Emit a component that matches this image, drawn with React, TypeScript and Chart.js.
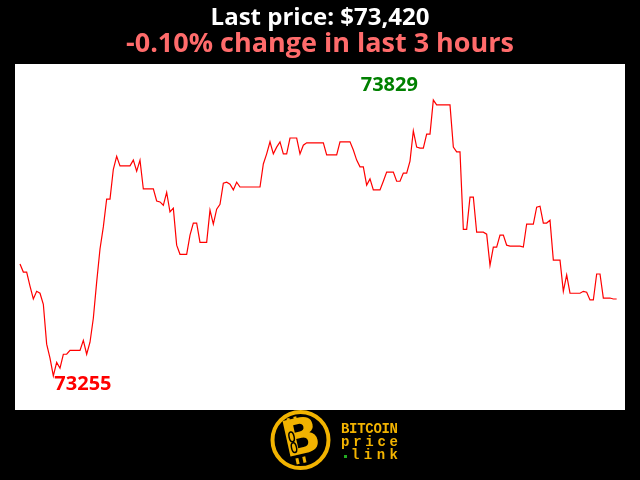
import React, { useEffect, useRef } from "react";
import { Chart, registerables } from "chart.js";

Chart.register(...registerables);

const TITLE = "Last price: $73,420";
const SUBTITLE = "-0.10% change in last 3 hours";
const LOGO_LINES = ["BITCOIN", "price", "link"];

// BTC price, one point per minute over the last 3 hours
const prices: number[] = [
  73488, 73471, 73471, 73442, 73415, 73431, 73427, 73404, 73321, 73292,
  73255, 73283, 73271, 73300, 73300, 73308, 73308, 73308, 73308, 73329,
  73300, 73325, 73375, 73450, 73519, 73565, 73623, 73623, 73685, 73712,
  73692, 73692, 73692, 73692, 73704, 73681, 73704, 73644, 73644, 73644,
  73644, 73619, 73617, 73610, 73637, 73596, 73604, 73527, 73508, 73508,
  73508, 73548, 73573, 73573, 73533, 73533, 73533, 73600, 73571, 73602,
  73612, 73656, 73658, 73654, 73642, 73658, 73648, 73648, 73648, 73648,
  73648, 73648, 73648, 73696, 73717, 73742, 73717, 73731, 73742, 73717,
  73717, 73750, 73750, 73750, 73717, 73735, 73740, 73740, 73740, 73740,
  73740, 73740, 73715, 73715, 73715, 73715, 73742, 73742, 73742, 73742,
  73725, 73704, 73690, 73690, 73652, 73665, 73642, 73642, 73642, 73660,
  73679, 73679, 73679, 73660, 73660, 73677, 73677, 73702, 73765, 73731,
  73729, 73729, 73758, 73758, 73829, 73819, 73819, 73819, 73819, 73819,
  73731, 73721, 73721, 73560, 73560, 73627, 73627, 73554, 73554, 73554,
  73550, 73485, 73523, 73523, 73548, 73548, 73527, 73525, 73525, 73525,
  73525, 73523, 73571, 73571, 73571, 73606, 73608, 73573, 73573, 73579,
  73496, 73496, 73496, 73431, 73465, 73427, 73427, 73427, 73427, 73431,
  73429, 73413, 73413, 73467, 73467, 73417, 73417, 73417, 73415, 73415,
];

const minuteIndex: number[] = prices.map((_, i) => i);

const Y_MIN = 73184;
const Y_MAX = 73904;

function drawJustified(ctx: CanvasRenderingContext2D, text: string, left: number, right: number, y: number) {
  const chars = text.split("");
  const widths = chars.map((c) => ctx.measureText(c).width);
  const total = widths.reduce((a, b) => a + b, 0);
  const gap = chars.length > 1 ? (right - left - total) / (chars.length - 1) : 0;
  let x = left;
  ctx.textAlign = "left";
  chars.forEach((c, i) => {
    ctx.fillText(c, x, y);
    x += widths[i] + gap;
  });
}

const decorPlugin = {
  id: "decor",
  beforeDraw(chart: any) {
    const { ctx, chartArea: a } = chart;
    ctx.save();
    ctx.fillStyle = "#000000";
    ctx.fillRect(0, 0, chart.width, chart.height);
    ctx.fillStyle = "#ffffff";
    ctx.fillRect(a.left, a.top, a.right - a.left, a.bottom - a.top);
    ctx.restore();
  },
  afterDraw(chart: any) {
    const { ctx } = chart;
    const xs = chart.scales.x;
    const ys = chart.scales.y;
    ctx.save();

    // header
    ctx.textAlign = "center";
    ctx.textBaseline = "alphabetic";
    ctx.fillStyle = "#ffffff";
    ctx.font = 'bold 24px "Open Sans"';
    ctx.fillText(TITLE, 320, 25);
    ctx.fillStyle = "#ff6b6b";
    ctx.font = 'bold 27px "Open Sans"';
    ctx.fillText(SUBTITLE, 320, 52);

    // max / min labels
    let maxI = 0;
    let minI = 0;
    prices.forEach((p, i) => {
      if (p > prices[maxI]) maxI = i;
      if (p < prices[minI]) minI = i;
    });
    const maxX = xs.getPixelForValue(minuteIndex[maxI]);
    const maxY = ys.getPixelForValue(prices[maxI]);
    const minX = xs.getPixelForValue(minuteIndex[minI]);
    const minY = ys.getPixelForValue(prices[minI]);
    ctx.font = 'bold 20px "Open Sans"';
    ctx.fillStyle = "#008000";
    ctx.textAlign = "center";
    ctx.fillText(String(prices[maxI]), maxX - 44, maxY - 9);
    ctx.fillStyle = "#ff0000";
    ctx.textAlign = "left";
    ctx.fillText(String(prices[minI]), minX + 1, minY + 14);

    // logo
    const gold = "#f2b300";
    const cx = 300.5;
    const cy = 440;
    ctx.beginPath();
    ctx.arc(cx, cy, 28, 0, Math.PI * 2);
    ctx.fillStyle = "#000000";
    ctx.fill();
    ctx.lineWidth = 4;
    ctx.strokeStyle = gold;
    ctx.stroke();

    ctx.save();
    ctx.translate(cx, cy);
    ctx.rotate(-0.22);
    ctx.fillStyle = gold;
    ctx.fillRect(-9, -24, 3, 6);
    ctx.fillRect(-2, -24, 3, 6);
    ctx.fillRect(-9, 17, 3, 6);
    ctx.fillRect(-2, 17, 3, 6);
    ctx.font = 'bold 50px "DejaVu Sans"';
    ctx.textAlign = "center";
    ctx.textBaseline = "middle";
    ctx.fillText("B", 1, 1);
    ctx.strokeStyle = "#000000";
    ctx.lineWidth = 1.5;
    ctx.beginPath();
    ctx.ellipse(-8, -5, 2.5, 5, 0, 0, Math.PI * 2);
    ctx.stroke();
    ctx.beginPath();
    ctx.ellipse(-8, 6, 2.5, 5, 0, 0, Math.PI * 2);
    ctx.stroke();
    ctx.restore();

    ctx.fillStyle = gold;
    ctx.font = 'bold 14px "Liberation Mono"';
    ctx.textBaseline = "alphabetic";
    drawJustified(ctx, LOGO_LINES[0], 341, 398, 433);
    drawJustified(ctx, LOGO_LINES[1], 341, 398, 446);
    drawJustified(ctx, LOGO_LINES[2], 351, 398, 459);
    ctx.fillStyle = "#22aa22";
    ctx.fillRect(344, 455, 3, 3);

    ctx.restore();
  },
};

export default function App() {
  const ref = useRef<HTMLCanvasElement | null>(null);

  useEffect(() => {
    document.body.style.margin = "0";
    document.body.style.background = "#000";
    if (!ref.current) return;
    const chart = new Chart(ref.current, {
      type: "line",
      data: {
        labels: minuteIndex,
        datasets: [
          {
            data: prices.map((p, i) => ({ x: minuteIndex[i], y: p })),
            borderColor: "#ff0000",
            borderWidth: 1.2,
            pointRadius: 0,
            tension: 0,
            fill: false,
          },
        ],
      },
      options: {
        animation: false,
        responsive: false,
        maintainAspectRatio: false,
        layout: { padding: { left: 15, right: 15, top: 64, bottom: 70 } },
        plugins: {
          legend: { display: false },
          tooltip: { enabled: false },
          title: { display: false },
        },
        scales: {
          x: { type: "linear", display: false, min: -1.5, max: 181.5 },
          y: { type: "linear", display: false, min: Y_MIN, max: Y_MAX },
        },
      },
      plugins: [decorPlugin],
    });
    return () => chart.destroy();
  }, []);

  return (
    <div style={{ width: 640, height: 480, background: "#000" }}>
      <canvas ref={ref} width={640} height={480} style={{ display: "block" }} />
    </div>
  );
}
